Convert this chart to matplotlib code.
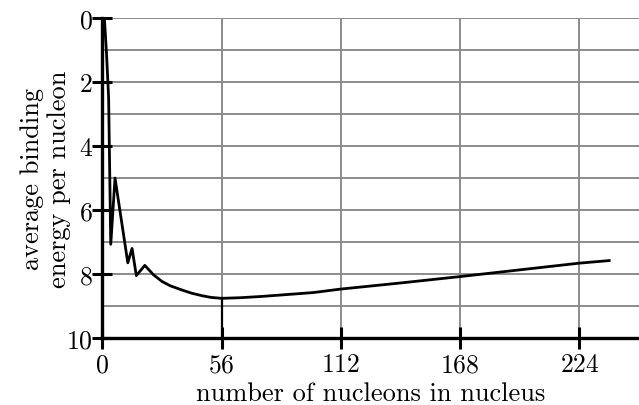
import matplotlib
matplotlib.use("Agg")
import matplotlib.pyplot as plt

# nucleon number A and binding energy per nucleon
nucleons = [1, 2, 3, 4, 6, 12, 14, 16, 20, 24, 28, 32, 37, 42, 47, 51, 56, 65, 75,
            87, 99, 112, 140, 168, 196, 224, 238]
binding = [0.0, 1.1, 2.5, 7.07, 5.0, 7.65, 7.2, 8.05, 7.73, 8.02, 8.23, 8.37, 8.49,
           8.6, 8.68, 8.73, 8.76, 8.74, 8.70, 8.64, 8.58, 8.47, 8.28, 8.08, 7.87, 7.66, 7.58]

x_ticks = [56, 112, 168, 224]
y_ticks = [0, 2, 4, 6, 8, 10]
y_grid = list(range(0, 11))

plt.rcParams['font.family'] = 'cmr10'
plt.rcParams['axes.formatter.use_mathtext'] = True

fig = plt.figure(figsize=(6.39, 4.06), dpi=100)
ax = fig.add_axes([0.16, 0.165, 0.84, 0.788])

for yv in y_grid:
    ax.axhline(yv, color='#8c8c8c', lw=1.4, zorder=1)
for xv in x_ticks:
    ax.axvline(xv, color='#8c8c8c', lw=1.4, zorder=1)

ax.plot(nucleons, binding, color='black', lw=2.0, zorder=3)
# marker line from the minimum (iron) down to the axis
i56 = nucleons.index(56)
ax.plot([56, 56], [binding[i56], 10], color='black', lw=1.6, zorder=3)

ax.set_xlim(0, 252)
ax.set_ylim(10, 0)

for s in ['top', 'right']:
    ax.spines[s].set_visible(False)
for s in ['left', 'bottom']:
    ax.spines[s].set_linewidth(2.4)
    ax.spines[s].set_zorder(4)

ax.set_yticks(y_ticks)
ax.set_xticks([0] + x_ticks)
ax.tick_params(axis='both', direction='inout', width=2.2, labelsize=18.5)
ax.tick_params(axis='y', length=14, pad=0)
ax.tick_params(axis='x', length=16, pad=2.5)

ax.set_xlabel('number of nucleons in nucleus', fontsize=19, va='baseline')
ax.set_ylabel('average binding\nenergy per nucleon', fontsize=19, linespacing=1.2)
ax.xaxis.set_label_coords(0.5, -0.195)
ax.yaxis.set_label_coords(-0.058, 0.5)

fig.savefig('out.png', dpi=100)
